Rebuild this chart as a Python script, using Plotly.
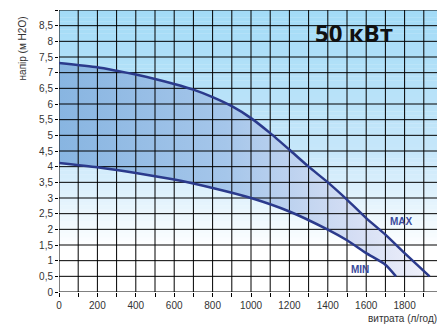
import plotly.graph_objects as go

# ---- data ----
max_q = [0, 200, 300, 400, 500, 600, 700, 800, 900, 1000, 1100, 1200, 1300, 1400, 1500, 1600, 1700, 1800, 1930]
max_h = [7.31, 7.17, 7.06, 6.94, 6.80, 6.64, 6.46, 6.22, 5.93, 5.55, 5.07, 4.54, 4.00, 3.50, 2.95, 2.36, 1.83, 1.24, 0.50]
min_q = [0, 200, 400, 600, 800, 1000, 1200, 1400, 1500, 1600, 1700, 1755]
min_h = [4.12, 3.98, 3.80, 3.59, 3.32, 3.00, 2.57, 1.99, 1.65, 1.24, 0.87, 0.50]

x_ticks = list(range(0, 2001, 100))
x_labels = [str(v) if v % 200 == 0 and v < 2000 else "" for v in x_ticks]
y_ticks = [i * 0.5 for i in range(0, 19)]
y_labels = [("%g" % v).replace(".", ",") if v < 9 else "" for v in y_ticks]

X_MAX = 2000
Y_MAX = 9

fig = go.Figure()

# ---- background gradient bands (styling) ----
def lerp(c1, c2, t):
    return tuple(round(a + (b - a) * t) for a, b in zip(c1, c2))

top_c = (163, 219, 247)
mid_c = (198, 231, 250)
white = (255, 255, 255)
n = 72
for i in range(n):
    y0 = Y_MAX * i / n
    y1 = Y_MAX * (i + 1) / n
    yc = (y0 + y1) / 2
    if yc < 1.4:
        c = white
    elif yc < 4.5:
        c = lerp(white, mid_c, (yc - 1.4) / 3.1)
    else:
        c = lerp(mid_c, top_c, (yc - 4.5) / 4.5)
    fig.add_shape(type="rect", xref="x", yref="y", x0=0, x1=X_MAX, y0=y0, y1=y1 + 0.01,
                  fillcolor="rgb(%d,%d,%d)" % c, line_width=0, layer="below")

# ---- fill between curves ----
poly_x = max_q + min_q[::-1]
poly_y = max_h + min_h[::-1]
fig.add_trace(go.Scatter(
    x=poly_x, y=poly_y, mode="lines", fill="toself",
    line=dict(width=0, color="rgba(0,0,0,0)", shape="spline", smoothing=0.6),
    fillgradient=dict(type="horizontal",
                      colorscale=[[0, "#88B5E1"], [0.45, "#A5C6EA"], [0.8, "#D5DEF4"], [1, "#F0F1FB"]]),
    hoverinfo="skip", showlegend=False))

# ---- grid drawn above fill ----
gx, gy = [], []
for v in x_ticks:
    gx += [v, v, None]
    gy += [0, Y_MAX, None]
for v in y_ticks:
    gx += [0, X_MAX, None]
    gy += [v, v, None]
fig.add_trace(go.Scatter(x=gx, y=gy, mode="lines", line=dict(color="black", width=1),
                         hoverinfo="skip", showlegend=False))

# ---- curves ----
curve_col = "#2B3A8C"
fig.add_trace(go.Scatter(x=max_q, y=max_h, mode="lines",
                         line=dict(color=curve_col, width=2.5, shape="spline", smoothing=0.6),
                         hoverinfo="skip", showlegend=False, name="MAX"))
fig.add_trace(go.Scatter(x=min_q, y=min_h, mode="lines",
                         line=dict(color=curve_col, width=2.5, shape="spline", smoothing=0.6),
                         hoverinfo="skip", showlegend=False, name="MIN"))

lab_font = dict(family="Liberation Sans, Arial", size=10, color="#3A4A9C")
fig.add_annotation(x=1786, y=2.26, text="<b>MAX</b>", showarrow=False, font=lab_font)
fig.add_annotation(x=1569, y=0.71, text="<b>MIN</b>", showarrow=False, font=lab_font)
fig.add_annotation(x=1535, y=8.27, text="<b>50 кВт</b>", showarrow=False,
                   font=dict(family="Open Sans", size=24, color="#111111"))

# page body has an 8px default margin -> figure is 8px smaller, margins shifted
axis_font = dict(family="Liberation Sans, Arial", size=10, color="#333333")
fig.add_annotation(xref="paper", yref="paper", x=-0.095, y=0.862, text="напір (м H2O)",
                   textangle=-90, showarrow=False, font=axis_font, xanchor="center", yanchor="middle")
fig.add_annotation(xref="paper", yref="paper", x=1.0, y=-0.0957, text="витрата (л/год)", xshift=-4,
                   showarrow=False, font=axis_font, xanchor="right", yanchor="middle")

fig.update_xaxes(range=[0, X_MAX], tickvals=x_ticks, ticktext=x_labels, showgrid=False, zeroline=False,
                 ticks="outside", ticklen=4, tickcolor="black", tickfont=axis_font, showline=False,
                 fixedrange=True)
fig.update_yaxes(range=[0, Y_MAX], tickvals=y_ticks, ticktext=y_labels, showgrid=False, zeroline=False,
                 ticks="outside", ticklen=3, tickcolor="black", tickfont=axis_font, showline=False,
                 fixedrange=True)

fig.update_layout(width=437, height=317, margin=dict(l=51, r=2, t=2, b=33),
                  plot_bgcolor="white", paper_bgcolor="white", showlegend=False)

fig.write_html("out.html")
